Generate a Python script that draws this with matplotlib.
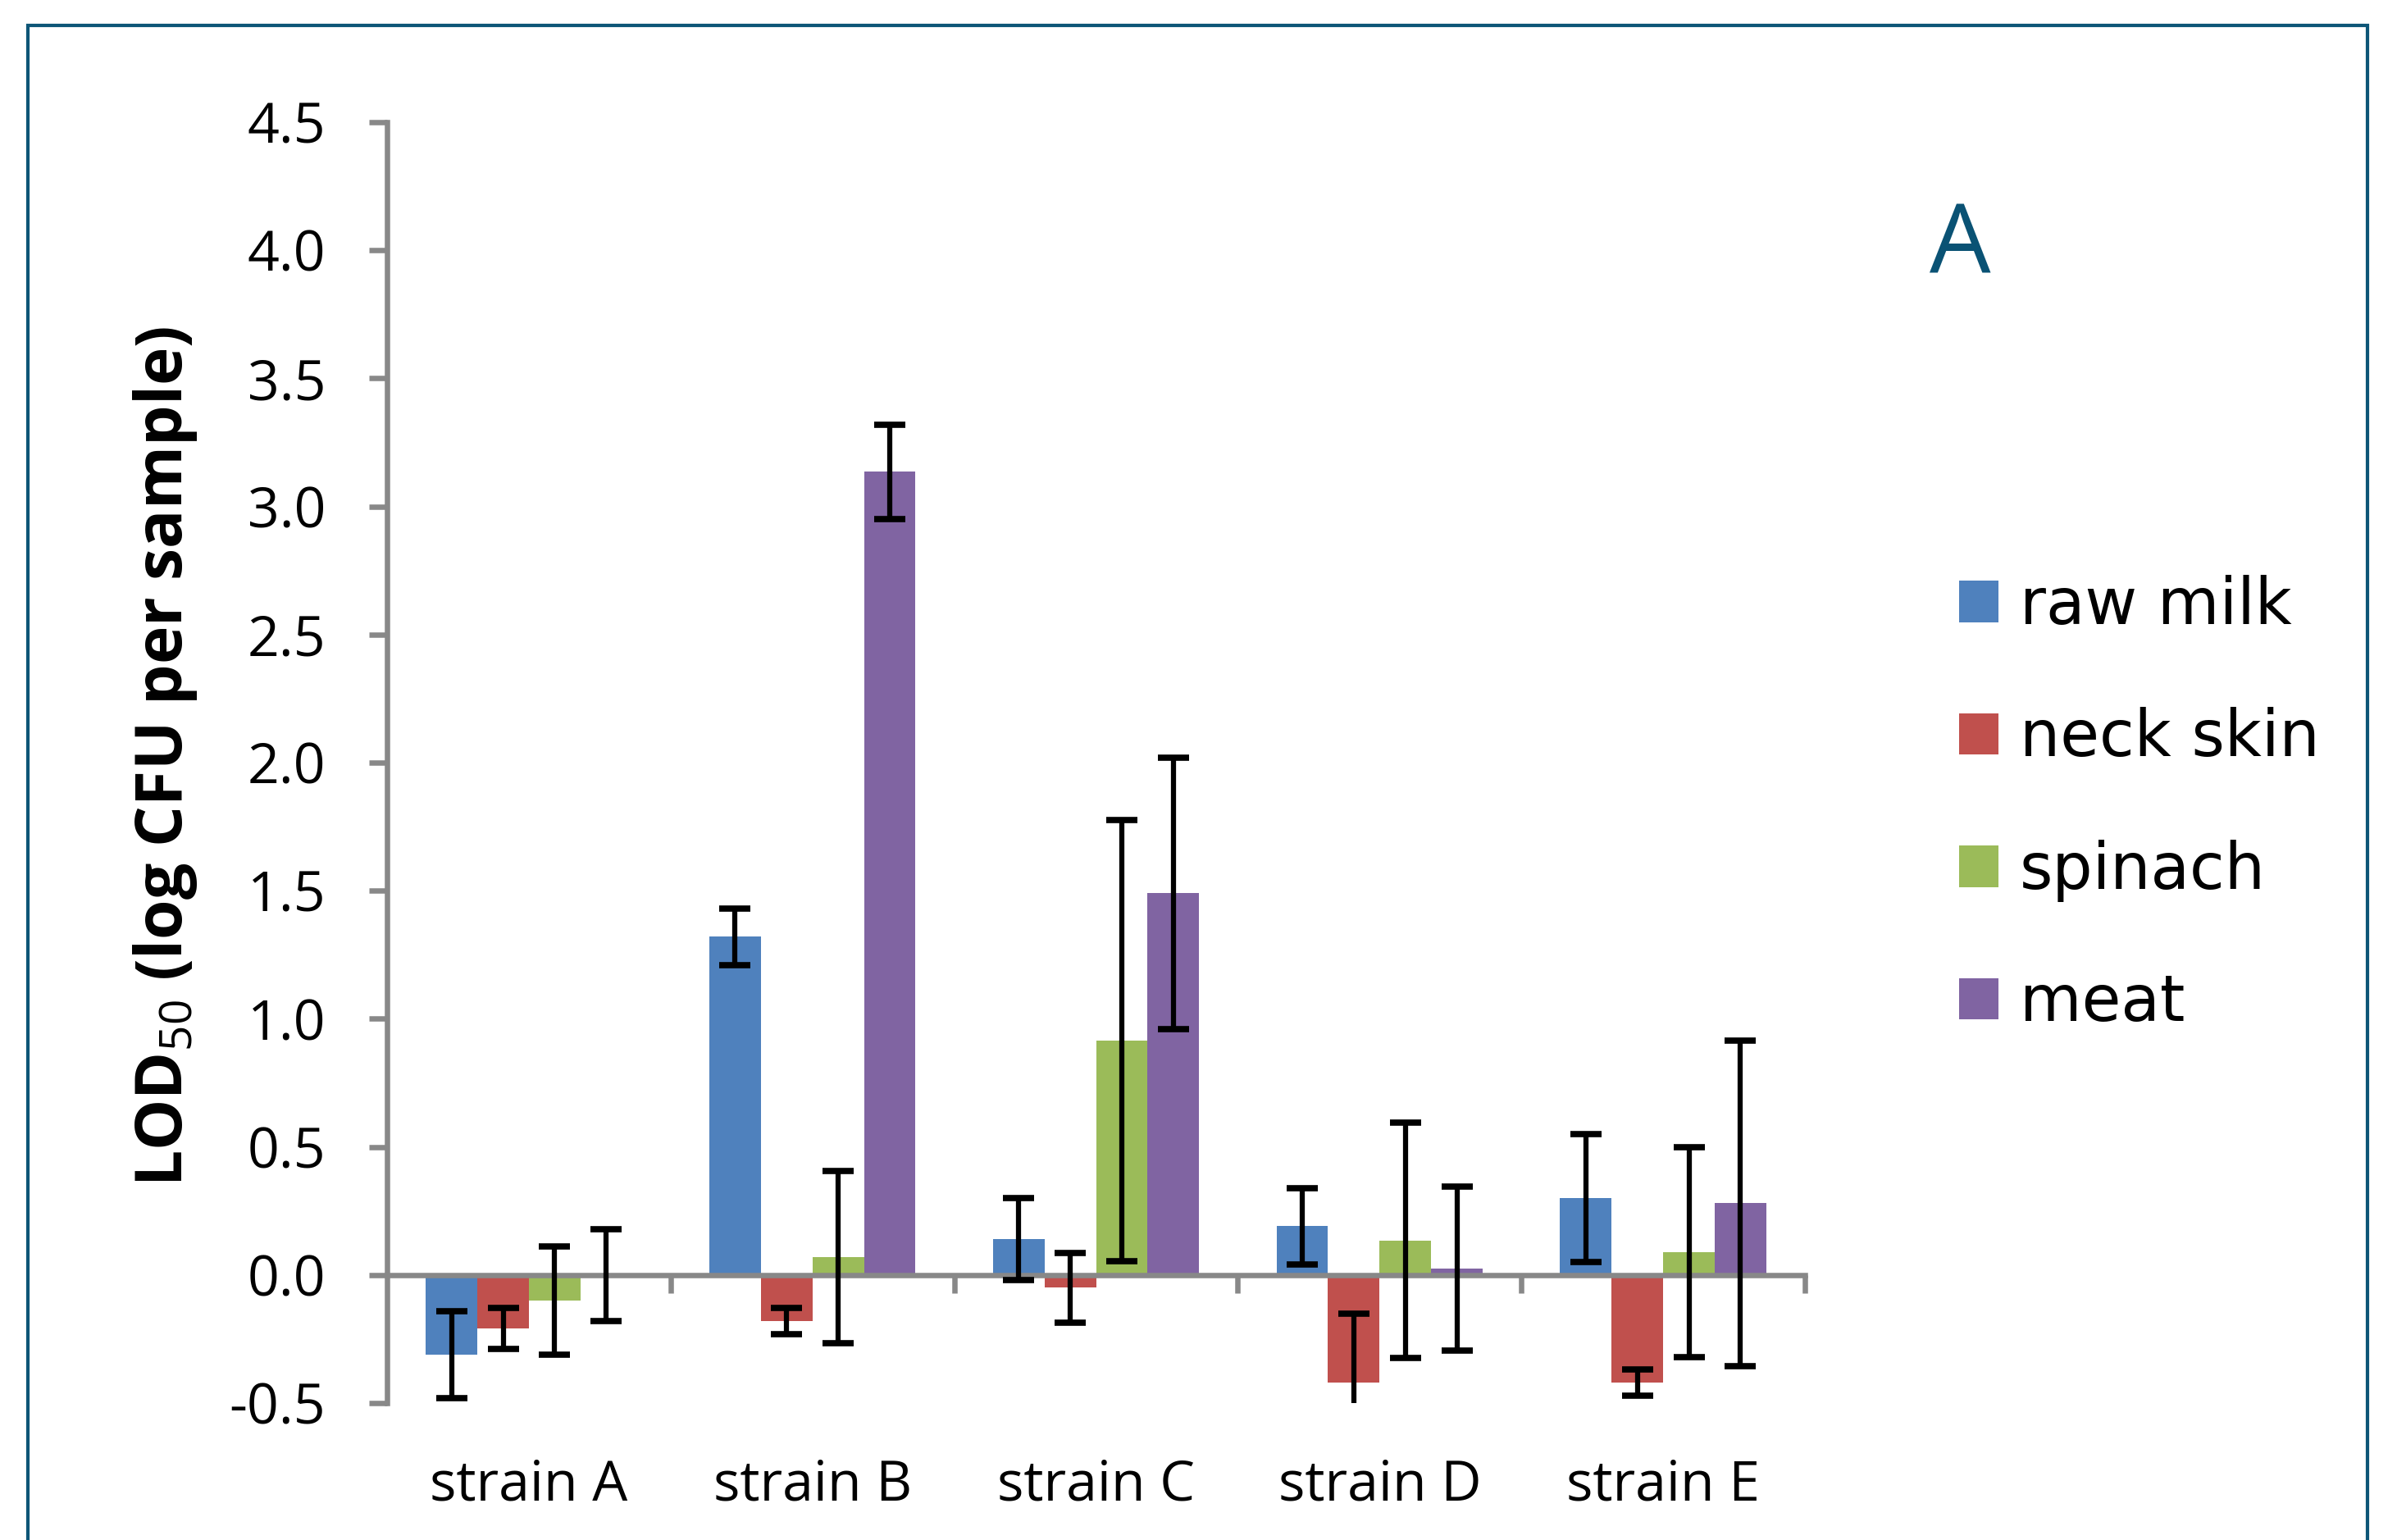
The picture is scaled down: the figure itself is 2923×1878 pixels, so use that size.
"""LOD50 per strain and matrix, grouped bars with SD error bars (panel A)."""
import numpy as np
import matplotlib
matplotlib.use("Agg")
import matplotlib.pyplot as plt
from matplotlib.patches import Rectangle
from matplotlib.ticker import FormatStrFormatter, FixedLocator

plt.rcParams["axes.unicode_minus"] = False
plt.rcParams["mathtext.fontset"] = "custom"
plt.rcParams["mathtext.rm"] = "Open Sans"

strains = ["strain A", "strain B", "strain C", "strain D", "strain E"]
series = ["raw milk", "neck skin", "spinach", "meat"]

raw_milk = [-0.31, 1.32, 0.14, 0.19, 0.30]
raw_milk_err = [0.17, 0.11, 0.16, 0.15, 0.25]
neck_skin = [-0.21, -0.18, -0.05, -0.42, -0.42]
neck_skin_err = [0.08, 0.05, 0.135, 0.27, 0.05]
spinach = [-0.10, 0.07, 0.915, 0.135, 0.09]
spinach_err = [0.21, 0.335, 0.86, 0.46, 0.41]
meat = [0.0, 3.135, 1.49, 0.025, 0.28]
meat_err = [0.18, 0.185, 0.53, 0.32, 0.635]

values = [raw_milk, neck_skin, spinach, meat]
errors = [raw_milk_err, neck_skin_err, spinach_err, meat_err]
colors = ["#4F81BD", "#C0504D", "#9BBB59", "#8064A2"]
AXIS = "#888888"

fig = plt.figure(figsize=(29.23, 18.78), dpi=100)
ax = fig.add_axes([0.1615, 0.0889, 0.5915, 0.8318])

x = np.arange(len(strains))
w = 0.727 / 4
for i, (v, e, c, name) in enumerate(zip(values, errors, colors, series)):
    pos = x - 0.727 / 2 + w * (i + 0.5)
    ax.bar(pos, v, width=w, color=c, label=name, zorder=1)
    ax.errorbar(pos, v, yerr=e, fmt="none", ecolor="black", elinewidth=4.5,
                capsize=14, capthick=5.5, zorder=4)

ax.set_xlim(-0.5, 4.5)
ax.set_ylim(-0.5, 4.5)
ax.yaxis.set_major_locator(FixedLocator(np.arange(-0.5, 4.51, 0.5)))
ax.yaxis.set_major_formatter(FormatStrFormatter("%.1f"))

for s in ["top", "right"]:
    ax.spines[s].set_visible(False)
ax.spines["bottom"].set_position(("data", 0))
for s in ["left", "bottom"]:
    ax.spines[s].set_color(AXIS)
    ax.spines[s].set_linewidth(4.7)

ax.set_xticks(np.arange(0.5, 4.6, 1.0))
ax.set_xticklabels([])
ax.tick_params(axis="x", direction="out", length=16, width=4.7, color=AXIS)
ax.tick_params(axis="y", direction="out", length=16, width=4.7, color=AXIS,
               pad=38, labelsize=49)
for t in ax.get_yticklabels():
    t.set_fontfamily("Open Sans")

for xi, name in zip(x, strains):
    ax.text(xi, -0.0647, name, transform=ax.get_xaxis_transform(),
            ha="center", va="center", fontsize=49, family="Open Sans")

fig.text(0.0688, 0.5085, "LOD$_{50}$ (log CFU per sample)", rotation=90,
         ha="center", va="center", fontsize=56.5, fontweight="bold",
         family="Open Sans")

fig.text(0.8177, 0.8387, "A", ha="center", va="center", fontsize=85,
         color="#0A5274", family="Open Sans")

leg = fig.legend(loc="upper left", bbox_to_anchor=(0.8040, 0.6476),
                 frameon=False, borderpad=0,
                 handlelength=0.62, handleheight=0.62, handletextpad=0.33,
                 labelspacing=1.10, prop={"family": "DejaVu Sans", "size": 56})

fig.add_artist(Rectangle((0.01163, -0.05), 0.98768 - 0.01163, 0.9835 + 0.05,
                         transform=fig.transFigure, fill=False,
                         edgecolor="#0E5677", linewidth=3, clip_on=False))

fig.savefig("out.png", dpi=100)
